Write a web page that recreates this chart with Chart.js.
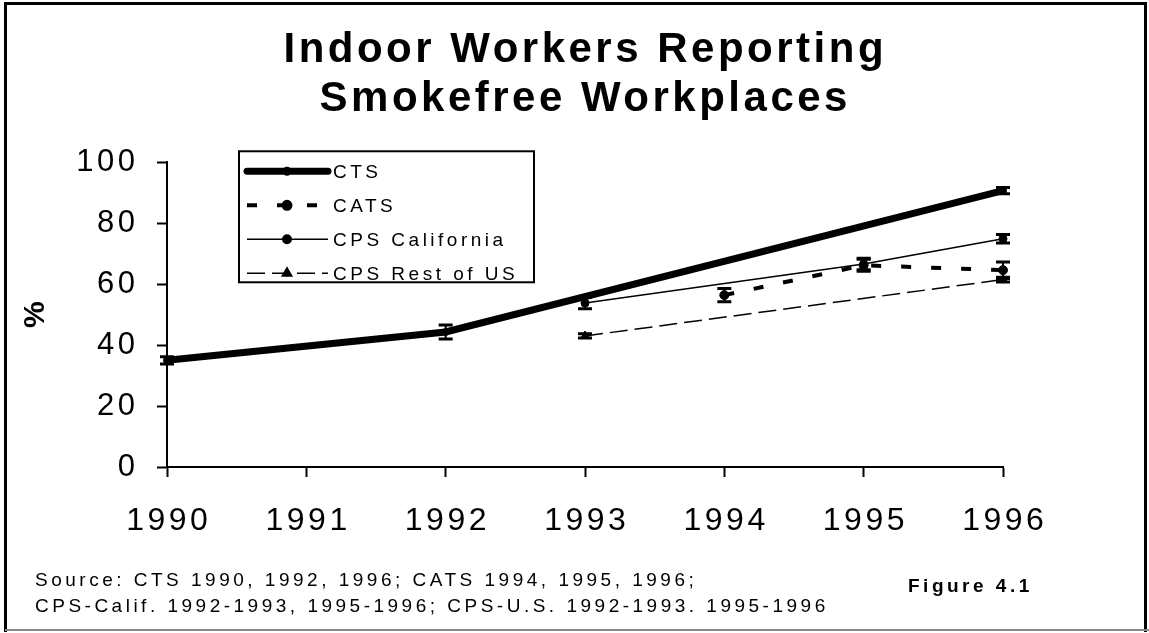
<!DOCTYPE html>
<html><head><meta charset="utf-8">
<script src="https://cdn.jsdelivr.net/npm/chart.js@4.4.1/dist/chart.umd.min.js"></script>
<style>html,body{margin:0;padding:0;background:#fff;}canvas{display:block;}</style>
</head><body>
<canvas id="c" width="1149" height="633"></canvas>
<script>
// ---- data ----
const years = ['1990', '1991', '1992', '1993', '1994', '1995', '1996'];
const ctsValues    = [35.0, null, 44.3, null, null, null, 90.7];
const catsValues   = [null, null, null, null, 56.4, 66.2, 64.6];
const cpsCalValues = [null, null, null, 53.8, null, 66.6, 74.9];
const cpsUsValues  = [null, null, null, 43.0, null, null, 61.5];
const ctsErr    = [1.2, null, 2.3, null, null, null, 1.0];
const catsErr   = [null, null, null, null, 2.2, 2.0, 2.7];
const cpsCalErr = [null, null, null, 1.9, null, 1.9, 1.4];
const cpsUsErr  = [null, null, null, 0.7, null, null, 0.8];
const yTickValues = [0, 20, 40, 60, 80, 100];
const titleLines = ['Indoor Workers Reporting', 'Smokefree Workplaces'];
const yAxisTitle = '%';
const sourceLines = [
  'Source: CTS 1990, 1992, 1996; CATS 1994, 1995, 1996;',
  'CPS-Calif. 1992-1993, 1995-1996; CPS-U.S. 1992-1993. 1995-1996'
];
const figureLabel = 'Figure 4.1';

const FONT = "'Liberation Sans', Arial, Helvetica, sans-serif";

// ---- letter spacing to mimic the wide-tracked original text ----
function spacingFor(font, text) {
  if (text == null || String(text).length < 2) return 0;
  return 3.5;
}
const spacingPlugin = {
  id: 'spacing',
  beforeInit(chart) {
    const ctx = chart.ctx;
    if (ctx.__spaced) return;
    ctx.__spaced = true;
    const fill = ctx.fillText;
    const measure = ctx.measureText;
    ctx.fillText = function (text, x, y, maxWidth) {
      const s = spacingFor(this.font, text);
      this.letterSpacing = s + 'px';
      const a = this.textAlign;
      if (a === 'center') x += s / 2;
      else if (a === 'right' || a === 'end') x += s;
      if (maxWidth === undefined) return fill.call(this, text, x, y);
      return fill.call(this, text, x, y, maxWidth);
    };
    ctx.measureText = function (text) {
      this.letterSpacing = spacingFor(this.font, text) + 'px';
      return measure.call(this, text);
    };
  }
};

// ---- error bars ----
const errorBarPlugin = {
  id: 'errorBars',
  afterDatasetsDraw(chart) {
    const ctx = chart.ctx, xs = chart.scales.x, ys = chart.scales.y;
    ctx.save();
    ctx.strokeStyle = '#000';
    chart.data.datasets.forEach(ds => {
      const errs = ds.errors || [];
      ds.data.forEach((v, j) => {
        if (v == null || errs[j] == null) return;
        const x = xs.getPixelForValue(j);
        const yTop = ys.getPixelForValue(v + errs[j]);
        const yBot = ys.getPixelForValue(v - errs[j]);
        ctx.lineWidth = 2;
        ctx.beginPath(); ctx.moveTo(x, yTop); ctx.lineTo(x, yBot); ctx.stroke();
        ctx.lineWidth = 3;
        ctx.beginPath();
        ctx.moveTo(x - 7, yTop); ctx.lineTo(x + 7, yTop);
        ctx.moveTo(x - 7, yBot); ctx.lineTo(x + 7, yBot);
        ctx.stroke();
      });
    });
    ctx.restore();
  }
};

// ---- legend drawn inside the plot (boxed) ----
const boxLegendPlugin = {
  id: 'boxLegend',
  afterDatasetsDraw(chart) {
    const ctx = chart.ctx, ca = chart.chartArea;
    const left = ca.left + 72, top = ca.top - 11, w = 295, h = 131;
    ctx.save();
    ctx.fillStyle = '#fff';
    ctx.fillRect(left, top, w, h);
    ctx.strokeStyle = '#000';
    ctx.lineWidth = 2;
    ctx.strokeRect(left, top, w, h);
    chart.data.datasets.forEach((ds, i) => {
      const y = top + 20 + i * 34;
      ctx.save();
      ctx.strokeStyle = ds.borderColor;
      ctx.lineWidth = ds.borderWidth;
      ctx.lineCap = i === 0 ? 'round' : 'butt';
      ctx.setLineDash(ds.borderDash || []);
      ctx.beginPath(); ctx.moveTo(left + 8, y); ctx.lineTo(left + 89, y); ctx.stroke();
      ctx.restore();
      ctx.save();
      ctx.fillStyle = ds.pointBackgroundColor;
      ctx.strokeStyle = ds.pointBorderColor;
      Chart.helpers.drawPoint(ctx, {pointStyle: ds.pointStyle, radius: ds.pointRadius, rotation: 0, borderWidth: 1}, left + 48, y);
      ctx.restore();
      ctx.fillStyle = '#000';
      ctx.font = '19px ' + FONT;
      ctx.textAlign = 'left';
      ctx.textBaseline = 'middle';
      ctx.fillText(ds.label, left + 94, y + 1);
    });
    ctx.restore();
  }
};

// ---- background, frame and footer ----
const frameFooterPlugin = {
  id: 'frameFooter',
  beforeDraw(chart) {
    const ctx = chart.ctx;
    ctx.save();
    ctx.fillStyle = '#fff';
    ctx.fillRect(0, 0, chart.width, chart.height);
    ctx.restore();
  },
  afterDraw(chart) {
    const ctx = chart.ctx;
    ctx.save();
    ctx.fillStyle = '#000';
    ctx.textBaseline = 'middle';
    ctx.textAlign = 'left';
    ctx.font = '19px ' + FONT;
    sourceLines.forEach((t, i) => ctx.fillText(t, 35, 581 + i * 26));
    ctx.font = 'bold 19px ' + FONT;
    ctx.fillText(figureLabel, 908, 587);
    // frame
    ctx.strokeStyle = '#000';
    ctx.lineWidth = 3;
    ctx.beginPath();
    ctx.moveTo(5.5, 632); ctx.lineTo(5.5, 3.5); ctx.lineTo(1145.5, 3.5); ctx.lineTo(1145.5, 632);
    ctx.stroke();
    ctx.strokeStyle = '#888';
    ctx.lineWidth = 2;
    ctx.beginPath(); ctx.moveTo(5, 630); ctx.lineTo(1149, 630); ctx.stroke();
    ctx.restore();
  }
};

const lineDs = (label, data, errors, extra) => Object.assign({
  label, data, errors,
  yAxisID: 'y',
  borderColor: '#000', backgroundColor: '#000',
  pointBackgroundColor: '#000', pointBorderColor: '#000',
  pointStyle: 'circle', pointBorderWidth: 1,
  spanGaps: true, tension: 0, fill: false
}, extra);

new Chart(document.getElementById('c'), {
  type: 'line',
  data: {
    labels: years,
    datasets: [
      lineDs('CTS', ctsValues, ctsErr, {borderWidth: 7, pointRadius: 3.5}),
      lineDs('CATS', catsValues, catsErr, {borderWidth: 4, borderDash: [10, 20], pointRadius: 4.5}),
      lineDs('CPS California', cpsCalValues, cpsCalErr, {borderWidth: 1.5, pointRadius: 4}),
      lineDs('CPS Rest of US', cpsUsValues, cpsUsErr, {borderWidth: 1.5, borderDash: [18, 7], pointStyle: 'triangle', pointRadius: 5})
    ]
  },
  options: {
    responsive: false,
    animation: false,
    devicePixelRatio: 1,
    layout: {padding: {left: 18, right: 0, top: 0, bottom: 0}},
    plugins: {
      legend: {display: false},
      tooltip: {enabled: false},
      title: {
        display: true, text: titleLines, color: '#000',
        font: {family: FONT, size: 42, weight: 'bold', lineHeight: 1.17},
        padding: {top: 26, bottom: 38}
      }
    },
    scales: {
      x: {
        type: 'category', offset: false,
        border: {display: true, color: '#000', width: 2},
        grid: {display: true, drawOnChartArea: false, drawTicks: true, tickLength: 10, tickWidth: 2, tickColor: '#000'},
        ticks: {color: '#000', font: {family: FONT, size: 32}, padding: 25, maxRotation: 0, autoSkip: false},
        afterFit(s) { s.height = 166; }
      },
      y: {
        type: 'linear', position: 'left', min: 0, max: 100,
        border: {display: true, color: '#000', width: 2},
        grid: {display: true, drawOnChartArea: false, drawTicks: true, tickLength: 10, tickWidth: 2, tickColor: '#000'},
        ticks: {color: '#000', font: {family: FONT, size: 31}, padding: 22, stepSize: 20},
        afterBuildTicks(s) { s.ticks = yTickValues.map(v => ({value: v})); },
        title: {display: true, text: yAxisTitle, color: '#000', font: {family: FONT, size: 30, weight: 'bold'}, padding: {top: 0, bottom: 0}},
        afterFit(s) { s.width = 149; }
      },
      yr: {
        type: 'linear', position: 'right', display: true,
        grid: {display: false}, border: {display: false}, ticks: {display: false},
        afterFit(s) { s.width = 146; }
      }
    }
  },
  plugins: [spacingPlugin, errorBarPlugin, boxLegendPlugin, frameFooterPlugin]
});
</script>
</body></html>
